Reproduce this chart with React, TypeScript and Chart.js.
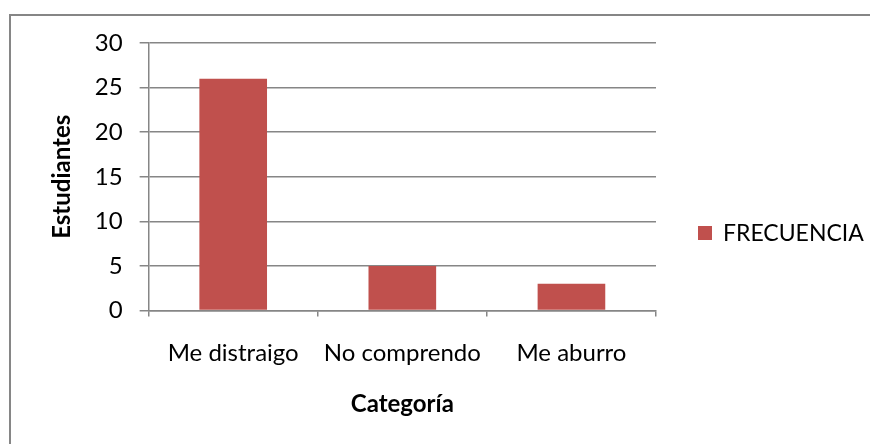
import React, { useEffect, useRef } from "react";
import { Chart, registerables } from "chart.js";

Chart.register(...registerables);

const categories = ["Me distraigo", "No comprendo", "Me aburro"];
const frecuencia = [26, 5, 3];
const seriesName = "FRECUENCIA";
const yTitle = "Estudiantes";
const xTitle = "Categoría";

const FONT = "Lato, 'Open Sans', sans-serif";
const GRID = "#868686";
const BAR = "#C0504D";

const legendPlugin = {
  id: "sideLegend",
  afterDraw(chart: any) {
    const { ctx, chartArea } = chart;
    const ds = chart.data.datasets[0];
    const cy = (chartArea.top + 423) / 2;
    const x = chartArea.right + 42;
    ctx.save();
    ctx.fillStyle = ds.backgroundColor;
    ctx.fillRect(x, cy - 7, 14, 14);
    ctx.fillStyle = "#000";
    ctx.font = `23px ${FONT}`;
    ctx.textBaseline = "middle";
    ctx.textAlign = "left";
    ctx.fillText(ds.label, x + 25, cy + 1);
    ctx.restore();
  },
};

export default function App() {
  const ref = useRef<HTMLCanvasElement | null>(null);
  useEffect(() => {
    if (!ref.current) return;
    const chart = new Chart(ref.current, {
      type: "bar",
      data: {
        labels: categories,
        datasets: [
          {
            label: seriesName,
            data: frecuencia,
            backgroundColor: BAR,
            borderWidth: 0,
            barPercentage: 0.4,
            categoryPercentage: 1,
          },
        ],
      },
      plugins: [legendPlugin],
      options: {
        responsive: false,
        animation: false,
        layout: { padding: { top: 43, bottom: 24.6, left: 48, right: 214 } },
        plugins: {
          tooltip: { enabled: false },
          legend: { display: false },
        },
        scales: {
          x: {
            grid: { drawOnChartArea: false, drawTicks: true, tickLength: 6, color: GRID, lineWidth: 1.5 },
            border: { display: true, color: GRID, width: 1.5 },
            ticks: { color: "#000", padding: 22, font: { family: FONT, size: 24 }, maxRotation: 0 },
            title: {
              display: true,
              text: xTitle,
              color: "#000",
              font: { family: FONT, size: 24, weight: "bold" },
              padding: { top: 0, bottom: 1.2 },
            },
          },
          y: {
            min: 0,
            max: 30,
            ticks: { stepSize: 5, color: "#000", padding: 17, font: { family: FONT, size: 24 } },
            grid: { color: GRID, lineWidth: 1.5, tickLength: 9 },
            border: { display: true, color: GRID, width: 1.5 },
            title: {
              display: true,
              text: yTitle,
              color: "#000",
              font: { family: FONT, size: 24, weight: "bold" },
              padding: { top: 0, bottom: 1 },
            },
          },
        },
      },
    });
    return () => chart.destroy();
  }, []);
  return (
    <div style={{ position: "fixed", left: 0, top: 0, width: 870, height: 444, background: "#fff", overflow: "hidden" }}>
      <canvas ref={ref} width={870} height={444} style={{ position: "absolute", left: 0, top: 0 }} />
      <div
        style={{
          position: "absolute",
          left: 9,
          top: 14,
          width: 1000,
          height: 1000,
          borderLeft: `2px solid ${GRID}`,
          borderTop: `2px solid ${GRID}`,
          pointerEvents: "none",
        }}
      />
    </div>
  );
}
